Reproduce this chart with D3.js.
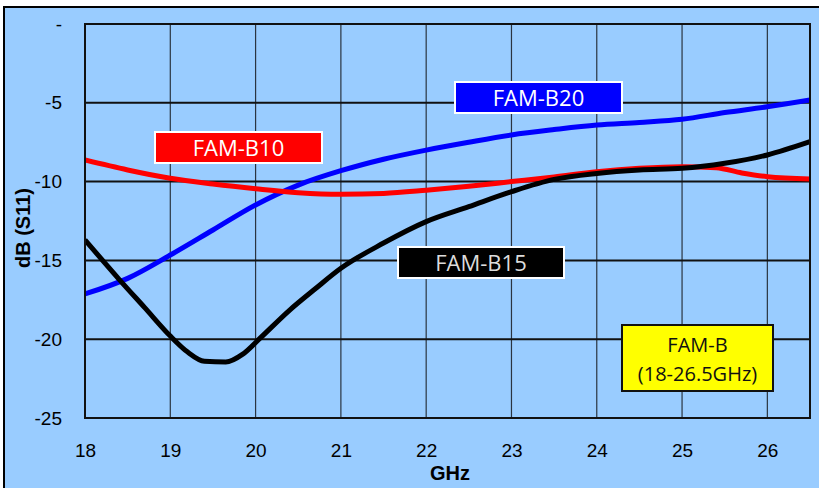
<!DOCTYPE html>
<html><head><meta charset="utf-8">
<script src="https://cdn.jsdelivr.net/npm/d3@7"></script>
<style>body{margin:0;background:#fff;}svg{display:block;}</style>
</head><body>
<svg id="c" width="819" height="488"></svg>
<script>
const freqB10 = [18, 18.5, 19, 19.5, 20, 20.5, 21, 21.5, 22, 22.5, 23, 23.5, 24, 24.5, 25, 25.4, 25.7, 26, 26.5];
const valsB10 = [-8.63, -9.26, -9.79, -10.15, -10.45, -10.7, -10.8, -10.75, -10.55, -10.3, -10.0, -9.7, -9.37, -9.15, -9.05, -9.12, -9.45, -9.69, -9.83];

const freqB20 = [18, 18.5, 19, 19.5, 20, 20.5, 21, 21.5, 22, 22.5, 23, 23.5, 24, 24.5, 25, 25.5, 26, 26.5];
const valsB20 = [-17.13, -16.14, -14.66, -13.07, -11.48, -10.22, -9.31, -8.58, -8.0, -7.5, -7.04, -6.7, -6.41, -6.25, -6.05, -5.62, -5.25, -4.82];

const freqB15 = [18, 18.4, 18.7, 19, 19.2, 19.4, 19.65, 19.85, 20.05, 20.4, 20.7, 21, 21.5, 22, 22.5, 23, 23.5, 24, 24.5, 25, 25.5, 26, 26.5];
const valsB15 = [-13.7, -16.2, -18.0, -19.8, -20.8, -21.4, -21.45, -20.95, -19.95, -18.15, -16.8, -15.5, -13.9, -12.54, -11.59, -10.64, -9.86, -9.48, -9.26, -9.16, -8.84, -8.31, -7.47];

const xTicks = [18, 19, 20, 21, 22, 23, 24, 25, 26];
const yTicks = [0, -5, -10, -15, -20, -25];
const seriesNames = ["FAM-B10", "FAM-B20", "FAM-B15"];
const seriesColors = ["#ff0000", "#0000ff", "#000000"];
const noteLines = ["FAM-B", "(18-26.5GHz)"];

const svg = d3.select("#c");
const L = 85, R = 810, T = 24, B = 418;
const x = d3.scaleLinear().domain([18, 26.5]).range([L, R]);
const y = d3.scaleLinear().domain([-25, 0]).range([B, T]);
const AX = "Liberation Sans, Arial, sans-serif";
const LB = "Open Sans, Noto Sans, sans-serif";

// outer frame
svg.append("rect").attr("x", 4).attr("y", 7).attr("width", 830).attr("height", 500)
  .attr("fill", "#99ccff").attr("stroke", "#000").attr("stroke-width", 2);

// gridlines
const g = svg.append("g");
g.selectAll(".vg").data(xTicks.filter(d => d > 18)).join("line")
  .attr("x1", d => x(d)).attr("x2", d => x(d)).attr("y1", T).attr("y2", B)
  .attr("stroke", "#2a3440").attr("stroke-width", 1.2);
g.selectAll(".hg").data(yTicks.filter(d => d > -25 && d < 0)).join("line")
  .attr("x1", L).attr("x2", R).attr("y1", d => y(d)).attr("y2", d => y(d))
  .attr("stroke", "#111").attr("stroke-width", 2);

// axes
const xAxis = d3.axisBottom(x).tickValues(xTicks).tickSize(0).tickFormat(d => String(d));
const xa = svg.append("g").attr("transform", `translate(0,${B})`).call(xAxis);
xa.select(".domain").remove();
xa.selectAll("text").attr("font-family", AX).attr("font-size", 19).attr("fill", "#000")
  .attr("dy", null).attr("y", 38.5);

const yAxis = d3.axisLeft(y).tickValues(yTicks).tickSize(0).tickPadding(23).tickFormat(d => d === 0 ? "-" : String(d));
const ya = svg.append("g").attr("transform", `translate(${L},0)`).call(yAxis);
ya.select(".domain").remove();
ya.selectAll("text").attr("font-family", AX).attr("font-size", 19).attr("fill", "#000");

svg.append("text").attr("x", 450).attr("y", 480).attr("text-anchor", "middle")
  .attr("font-family", AX).attr("font-size", 20).attr("font-weight", "bold").text("GHz");
svg.append("text").attr("transform", "translate(30,228) rotate(-90)").attr("text-anchor", "middle")
  .attr("font-family", AX).attr("font-size", 20).attr("font-weight", "bold").text("dB (S11)");

// lines
const line = d3.line().x(d => x(d[0])).y(d => y(d[1])).curve(d3.curveMonotoneX);
const data = [d3.zip(freqB10, valsB10), d3.zip(freqB20, valsB20), d3.zip(freqB15, valsB15)];
svg.append("clipPath").attr("id", "pc").append("rect").attr("x", L).attr("y", T).attr("width", R - L).attr("height", B - T);
const lg = svg.append("g").attr("clip-path", "url(#pc)");
[1, 0, 2].forEach(i => {
  lg.append("path").datum(data[i]).attr("d", line).attr("fill", "none")
    .attr("stroke", seriesColors[i]).attr("stroke-width", 5).attr("stroke-linejoin", "round");
});

// plot border
svg.append("rect").attr("x", L).attr("y", T).attr("width", R - L).attr("height", B - T)
  .attr("fill", "none").attr("stroke", "#111").attr("stroke-width", 2);

// series labels
const labels = [
  {i: 0, x0: 155, y0: 132, w: 167, h: 31, tc: "#ffffff"},
  {i: 1, x0: 455, y0: 82, w: 167, h: 31, tc: "#ffffff"},
  {i: 2, x0: 398, y0: 247, w: 166, h: 31, tc: "#dcdcdc"}
];
labels.forEach(l => {
  svg.append("rect").attr("x", l.x0).attr("y", l.y0).attr("width", l.w).attr("height", l.h)
    .attr("fill", seriesColors[l.i]).attr("stroke", "#fff").attr("stroke-width", 2);
  svg.append("text").attr("x", l.x0 + l.w / 2).attr("y", l.y0 + 23.5).attr("text-anchor", "middle")
    .attr("font-family", LB).attr("font-size", 22).attr("fill", l.tc)
    .text(seriesNames[l.i]);
});

// note box
svg.append("rect").attr("x", 622).attr("y", 325).attr("width", 151).attr("height", 66)
  .attr("fill", "#ffff00").attr("stroke", "#111").attr("stroke-width", 2);
noteLines.forEach((t, k) => {
  svg.append("text").attr("x", 697.5).attr("y", 352 + k * 28.5).attr("text-anchor", "middle")
    .attr("font-family", LB).attr("font-size", 20).attr("fill", "#111").text(t);
});
</script>
</body></html>
